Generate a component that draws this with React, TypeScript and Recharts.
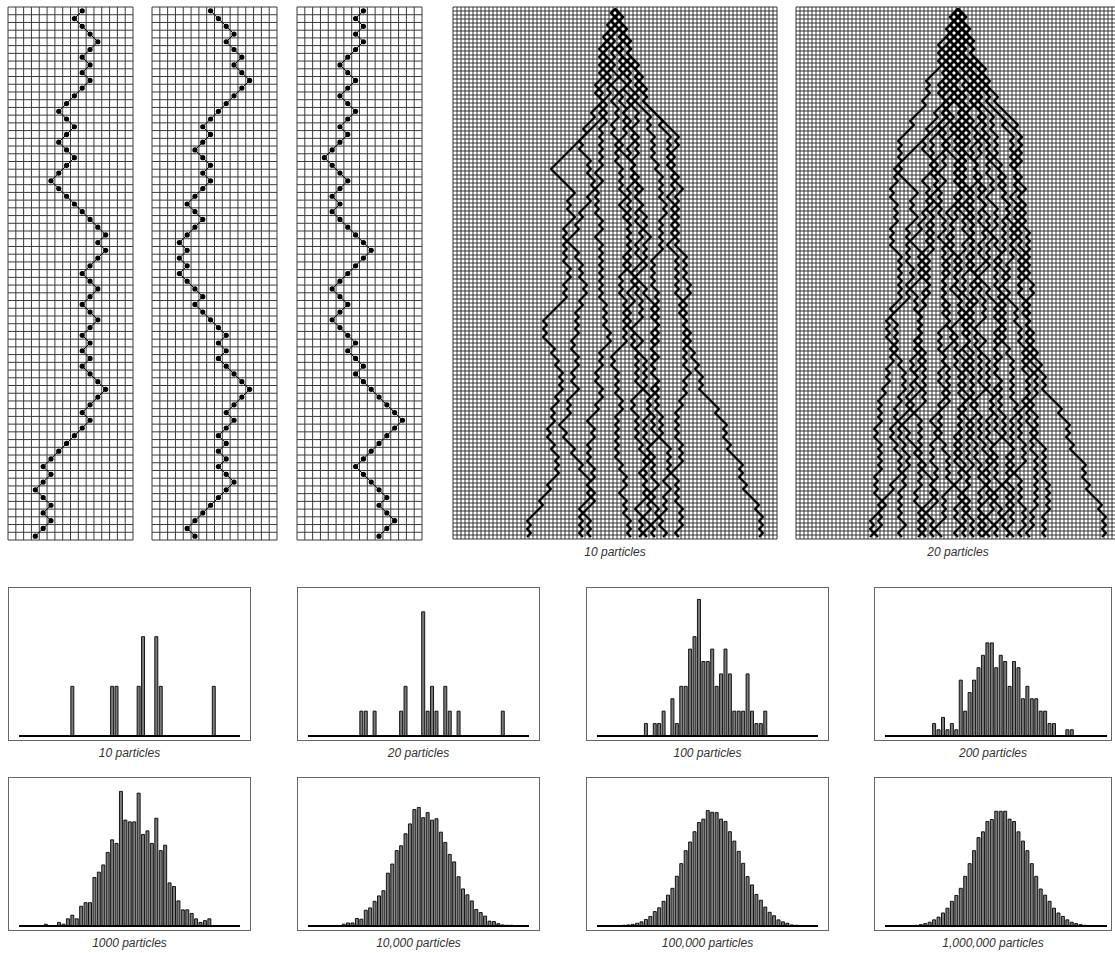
import React from "react"
import { ScatterChart, Scatter, XAxis, YAxis, CartesianGrid, BarChart, Bar, ReferenceLine } from "recharts"

// single random walks: column (0..15) reached at each row
const walk1 = [9, 8, 9, 10, 11, 10, 9, 10, 9, 10, 9, 8, 7, 6, 7, 8, 7, 6, 7, 8, 7, 6, 5,
  6, 7, 8, 9, 10, 11, 12, 11, 12, 11, 10, 9, 10, 11, 10, 9, 10, 11, 10, 9, 10, 9, 10,
  9, 10, 11, 12, 11, 10, 9, 10, 9, 8, 7, 6, 5, 4, 5, 4, 3, 4, 5, 4, 5, 4, 3]
const walk2 = [7, 8, 9, 10, 9, 10, 11, 10, 11, 12, 11, 10, 9, 8, 7, 6, 7, 6, 5, 6,
  7, 6, 7, 6, 5, 4, 5, 6, 5, 4, 3, 4, 3, 4, 3, 4, 5, 6, 5, 6,
  7, 8, 9, 8, 9, 8, 9, 10, 11, 12, 11, 10, 9, 10, 9, 8, 9, 8, 9, 8,
  9, 10, 9, 8, 7, 6, 5, 4, 5]
const walk3 = [8, 7, 8, 7, 8, 7, 6, 5, 6, 7, 6, 5, 6, 7, 6, 5, 6, 5, 4, 3,
  4, 5, 6, 5, 4, 5, 4, 5, 6, 7, 8, 9, 8, 7, 6, 5, 4, 5, 6, 5,
  4, 5, 6, 7, 6, 7, 8, 7, 8, 9, 10, 11, 12, 13, 12, 11, 10, 9, 8, 7,
  8, 9, 10, 11, 10, 11, 12, 11, 10]

// many-particle walks: each particle starts at column 40, r = step right, l = step left
const particles10 = [
  "lrllrllrllrl rlrlrllrlrrl rlrlllllllll llllrrrrrrll rlrrlllrlrlr lrlrrlrllrlr llllllrlrlrr rlrrlrrlrlrl lrllrlrllrlr rlrrlrlrlllr lllrllllrlrl",
  "lrlrllrlrllr rllrlrllrlrl llrlllrllrlr rrlrlrrlrllr lllrllrlllrr rlrrlrlrrlrl lrllrlrlrllr lrrlrllrlrrl llrlrlllrrlr rrlrrrlrrrlr lrlllrlrlrlr",
  "rllrlrlllrlr lrrlrlrlrllr lrlrllrlrlrl rlrllrrllrlr lrlrrlrllrrl rlrlrlrlrlrl rrlrlrlrrlrl llrlrllrlrrl rllrlllrrlrl lrlrlrrlrllr rlrlllrrlrlr",
  "rllrrllrlrlr lrlrrllrrllr rlrllrlrrlrl rlrrlrlrlrrl lrrlrrlrlrlr lrllrllrlrlr rlrrllrlrlrl lllrlrrlrlrl rrlrllrlrlrl rlrlrrlrrlrl lrrlrlrrlrlr",
  "rlrrlrlrlrlr rrlrlrllrrlr llrlrlrllrlr rrrlrlrllrlr lrlrlrlrlrlr llrrlrrlrllr rlllrrlrrlrl rrlrlrlrlrrl llrlrrlrlrlr rlrrrlllrrlr lrlllrrlrlrl",
  "rrlrlrlrllrr lrlrlrrllrlr rlrrlrrlrllr lrrlrrlrrllr rllrlrrlrllr lrrlllrrlrlr rlrlrlllrrrl lrrrlrlrlrlr rlrlrrlrlrrl llrllrlrlrlr rlrlrllrrllr",
  "lrrlrrlrlrlr rlrlrrlrrlrl rrlrllrrlrlr llrlrlrrlrlr rlrrlrlrrllr lrlrlllrrrlr rrlrlrrlrlrl lrlrlrlrrllr llrlrllrlrlr rlrrlrlrlrrl lrlrrlrllrlr",
  "rrlrrlrrlrlr rlrrlrlrlrlr rrrlrlrrlrlr lrrlrrlrlrlr rlrllrlrlrlr lllrlrlrlrrl rlrlrlrllrlr lrrllrlrrlrl rlrlrrlrlrlr rrlrlrlrllrr llrlrllrlrrl",
  "rlrrrlrrlrlr rrlrrlrrlrlr rrrrlrrrlrlr rlrlrrlrrllr lrllrlrlrllr rrlrlrlrlrlr rlrlrrlrrlrl lrlrlrrllrlr llrllrlrlrlr rlrlrlllrrlr lrlrrlrlrllr",
  "rrlrlrrlrrlr lrrrlrrlrrlr rrrrrrrrlrll lrlrrlrlrllr rlrrlrlrlrlr rrlrlrlrrlrl lrlrlrlrlrlr rrlrrlrrlrlr rrrrlrrrlrlr rlrrrrlrlrrl rrrrlrrlrlrl",
]
const particlesExtra = [
  "llrllrlllrlr lrllllrlrllr llllrllllrlr lrlrllrllrlr rlrlrllrlrlr rrlrlrlrlrlr lllrlrrlrlrl lrlrllrlrllr llrlrlrllrlr rlrlrlrllrlr lrrlrlrlrllr",
  "rlllrlrlrlrl lrlrllrrllrl rlrllrlrrlrl llrlrlrlrllr rllrllrlrlrl lrllrlrlllrr lrlrrlrlrlrl rlllrlrrllrl lrlrlllrlrlr rlrrlrllrlrl lrlrlrlrrllr",
  "lrlrrllrlrrl rlllrrlrllrl lrrlrlrllrlr rrlrlrlrrlrl lllrrlrlrlrl rllrlrllrlrl rlrlrrlllrlr lrrlrrlrlrlr lrlllrlrlrlr rlrrlrlrlrrl llrlrlrlllrr",
  "rlrlrrlrlrlr lllrlrlrrllr rrlrlrllrrlr lrllrlrlrllr rlrrlrlrrllr llrlrllrlrrl rlrlrlllrrlr lrrrlrlrlrlr rlllrlrlrllr lrlrlrrlrllr rlrllrlrrllr",
  "rlrlrlrllrlr rlrrlrlrlrlr llrlrlrllrlr rlrllrrlrlrl lrlrllrllrlr rrlrlrlrllrr rlrrlrlrlrrl lrrlrlrrlrlr lllrlrrlrlrl rlrlrrllrlrl lrlrlrlrlrlr",
  "llrlrlrlrllr rrlrlrlrlrrl rlrlrrlrrllr lrlrlrlrrlrl rlrrlrlrlrlr lrlrlrrllrlr lrlllrlrrlrl rrlrlrlrlrlr lrlrrllrlrlr rlrlrrlrlrrl lrlrlrlrlrlr",
  "rlrlrrlrlrlr rrlrrlrlrrlr lrrlrlrrlrlr lrlrlrrlrllr rrlrlrllrrlr rlrlrrlrlrrl lrlrlrlrlrlr rlrrlrlrlrlr lrrlrllrlrlr lrllrlrlrllr rrlrlrlrllrr",
  "rrlrlrrlrrlr rrrlrrlrrrlr rrrrrlrrlrlr lrllrlrlrrlr rlrlrlrrlrlr llrlrlrllrlr rrlrlrlrlrlr rlrlrrlrlrlr lllrlrlrrlrl rlrrlrlrlrlr lrlrllrlrllr",
  "lrrlrlrrlrlr rlrrlrlrlrlr rrlrrlrlrrlr rlrrrlrlrrlr rlrlrrlrlrlr lrllrlrlllrr rrrlrlrrlrlr rlrlrlrrlrlr lrrlrrlrlrlr rrlrlrlrlrrl rlrlrllrlrlr",
  "lrlrlrrlrlrl rllrlrllrlrl llrllrlllrlr lrlrlllrrlrl rlrrlrlrlrlr llrlrlrlrllr lrllrlrlrllr rrlrlrlrlrlr lrlllrrlrlrl rlrlrlrlrlrl lrlrrlrlrlrl",
]

// histogram bins 0..50 (final positions)
const bins = Array.from({ length: 51 }, (_, i) => i)
const hist10 = [0, 0, 0, 0, 0, 0, 0, 0, 0, 0, 0, 0, 1, 0, 0, 0, 0, 0, 0, 0,
  0, 1, 1, 0, 0, 0, 0, 1, 2, 0, 0, 2, 1, 0, 0, 0, 0, 0, 0, 0,
  0, 0, 0, 0, 1, 0, 0, 0, 0, 0, 0]
const hist20 = [0, 0, 0, 0, 0, 0, 0, 0, 0, 0, 0, 0, 1, 1, 0, 1, 0, 0, 0, 0,
  0, 1, 2, 0, 0, 0, 5, 1, 2, 1, 0, 2, 1, 0, 1, 0, 0, 0, 0, 0,
  0, 0, 0, 0, 1, 0, 0, 0, 0, 0, 0]
const hist100 = [0, 0, 0, 0, 0, 0, 0, 0, 0, 0, 0, 1, 0, 1, 1, 2, 0, 3, 1, 4,
  4, 7, 8, 11, 6, 6, 7, 4, 5, 7, 5, 2, 2, 2, 5, 2, 1, 1, 2, 0,
  0, 0, 0, 0, 0, 0, 0, 0, 0, 0, 0]
const hist200 = [0, 0, 0, 0, 0, 0, 0, 0, 0, 0, 0, 2, 1, 3, 1, 2, 1, 9, 4, 7,
  9, 11, 13, 15, 15, 11, 13, 12, 8, 12, 11, 6, 8, 6, 6, 4, 4, 2, 2, 0,
  0, 1, 1, 0, 0, 0, 0, 0, 0, 0, 0]
const hist1000 = [0, 0, 0, 0, 0, 0, 1, 0, 0, 2, 1, 4, 6, 4, 11, 13, 13, 27, 30, 34,
  41, 48, 46, 75, 59, 58, 58, 74, 51, 53, 46, 60, 42, 45, 24, 22, 14, 9, 9, 7,
  4, 2, 3, 4, 0, 0, 0, 0, 0, 0, 0]
const hist10k = [0, 0, 0, 0, 0, 0, 2, 2, 10, 17, 17, 42, 38, 88, 101, 138, 168, 197, 295, 346,
  421, 448, 515, 570, 650, 662, 605, 633, 591, 599, 524, 467, 400, 358, 275, 207, 174, 140, 92, 75,
  55, 27, 25, 13, 6, 4, 4, 0, 0, 0, 0]
const hist100k = [0, 0, 0, 0, 0, 20, 40, 60, 90, 150, 230, 360, 530, 800, 1010, 1370, 1710, 2090, 2760, 3460,
  4180, 4660, 5230, 5740, 5930, 6400, 6310, 6290, 5930, 5800, 5230, 4710, 4140, 3480, 2740, 2280, 1750, 1430, 1050, 760,
  570, 340, 230, 150, 60, 40, 20, 0, 0, 0, 0]
const hist1m = [0, 0, 0, 0, 0, 0, 190, 380, 760, 1330, 2090, 3420, 4940, 7220, 9880, 13680, 16910, 20900, 27550, 34580,
  41800, 49020, 52250, 57950, 59090, 63650, 63650, 63650, 59280, 57950, 52250, 47120, 41800, 34580, 27550, 20520, 17100, 13680, 9880, 7220,
  5320, 3420, 2090, 1330, 760, 380, 190, 0, 0, 0, 0]

const histograms = [
  { counts: hist10, yMax: 3, label: "10 particles" },
  { counts: hist20, yMax: 6, label: "20 particles" },
  { counts: hist100, yMax: 12, label: "100 particles" },
  { counts: hist200, yMax: 24, label: "200 particles" },
  { counts: hist1000, yMax: 83, label: "1000 particles" },
  { counts: hist10k, yMax: 832, label: "10,000 particles" },
  { counts: hist100k, yMax: 8265, label: "100,000 particles" },
  { counts: hist1m, yMax: 82650, label: "1,000,000 particles" },
]

const range = (n: number) => Array.from({ length: n + 1 }, (_, i) => i)

const labelStyle: React.CSSProperties = {
  position: "absolute",
  fontStyle: "italic",
  fontSize: 12,
  lineHeight: "14px",
  color: "#333",
  textAlign: "center",
}

const dot = (p: any) => <circle cx={p.cx} cy={p.cy} r={2.6} fill="#000" />
const noDot = () => <g />

function stepsToPoints(s: string) {
  const steps = s.replace(/\s/g, "")
  let c = 40
  const pts = [{ x: c + 0.5, y: 0.5 }]
  for (const ch of steps) {
    c += ch === "r" ? 1 : -1
    pts.push({ x: c + 0.5, y: pts.length + 0.5 })
  }
  return pts.slice(0, 133)
}

function NarrowWalk({ cols, left }: { cols: number[]; left: number }) {
  const pts = cols.map((c, i) => ({ x: c + 0.5, y: i + 0.5 }))
  return (
    <div style={{ position: "absolute", left: left - 1, top: 6 }}>
      <ScatterChart width={127} height={535} margin={{ top: 1, right: 1, bottom: 1, left: 1 }}>
        <CartesianGrid stroke="#3a3a3a" strokeWidth={1} verticalValues={range(16)} horizontalValues={range(69)} />
        <XAxis type="number" dataKey="x" domain={[0, 16]} ticks={range(16)} interval={0} hide />
        <YAxis type="number" dataKey="y" domain={[0, 69]} ticks={range(69)} interval={0} reversed hide />
        <Scatter data={pts} fill="#000" line={{ stroke: "#000", strokeWidth: 1 }} shape={dot} isAnimationActive={false} />
      </ScatterChart>
    </div>
  )
}

function WideWalk({ paths, left, label }: { paths: string[]; left: number; label: string }) {
  return (
    <>
      <div style={{ position: "absolute", left: left - 1, top: 6 }}>
        <ScatterChart width={326} height={534} margin={{ top: 1, right: 1, bottom: 1, left: 1 }}>
          <CartesianGrid stroke="#222" strokeWidth={0.9} verticalValues={range(81)} horizontalValues={range(133)} />
          <XAxis type="number" dataKey="x" domain={[0, 81]} ticks={range(81)} interval={0} hide />
          <YAxis type="number" dataKey="y" domain={[0, 133]} ticks={range(133)} interval={0} reversed hide />
          {paths.map((s, k) => (
            <Scatter key={k} data={stepsToPoints(s)} fill="#000" line={{ stroke: "#000", strokeWidth: 2 }}
              shape={noDot} isAnimationActive={false} />
          ))}
        </ScatterChart>
      </div>
      <div style={{ ...labelStyle, left, top: 545, width: 324 }}>{label}</div>
    </>
  )
}

function Histogram({ counts, yMax, label, left, top, width, padRight }: {
  counts: number[]; yMax: number; label: string; left: number; top: number; width: number; padRight: number
}) {
  const data = bins.map((b, i) => ({ bin: b, n: counts[i] }))
  return (
    <>
      <div style={{ position: "absolute", left, top, width, height: 154, border: "1px solid #666", boxSizing: "border-box" }} />
      <div style={{ position: "absolute", left, top }}>
        <BarChart width={width} height={154} data={data} margin={{ top: 0, right: padRight, bottom: 5, left: 11 }}>
          <XAxis type="number" dataKey="bin" domain={[0, 50]} hide />
          <YAxis type="number" domain={[0, yMax]} allowDataOverflow hide />
          <Bar dataKey="n" barSize={3} fill="#7a7a7a" stroke="#000" strokeWidth={0.9} isAnimationActive={false} />
          <ReferenceLine y={0} stroke="#000" strokeWidth={2} />
        </BarChart>
      </div>
      <div style={{ ...labelStyle, left, top: top + 159, width }}>{label}</div>
    </>
  )
}

const histLefts = [8, 297, 586, 874]

export default function App() {
  return (
    <div style={{ position: "absolute", left: 0, top: 0, width: 1115, height: 953, overflow: "hidden", background: "#fff", fontFamily: "'Liberation Sans', Arial, sans-serif" }}>
      <NarrowWalk cols={walk1} left={8} />
      <NarrowWalk cols={walk2} left={152} />
      <NarrowWalk cols={walk3} left={297} />
      <WideWalk paths={particles10} left={453} label="10 particles" />
      <WideWalk paths={[...particles10, ...particlesExtra]} left={796} label="20 particles" />
      {histograms.map((h, i) => (
        <Histogram key={h.label} counts={h.counts} yMax={h.yMax} label={h.label}
          left={histLefts[i % 4]} top={i < 4 ? 587 : 777}
          width={i % 4 === 3 ? 238 : 243} padRight={i % 4 === 3 ? 5 : 11} />
      ))}
    </div>
  )
}
